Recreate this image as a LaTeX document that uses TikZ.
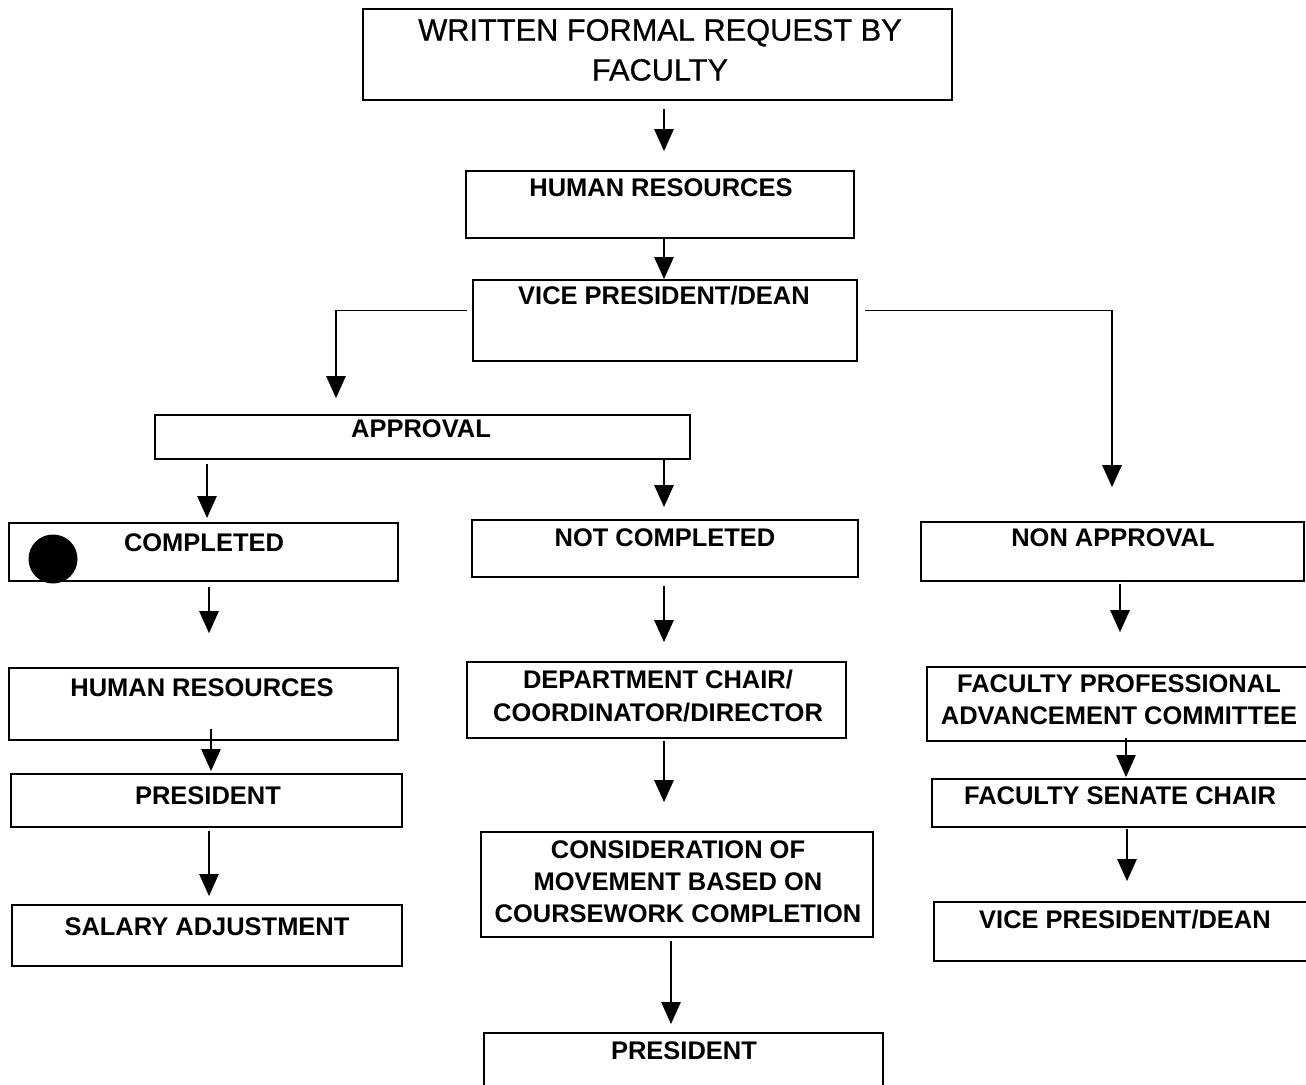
\documentclass[tikz,border=0pt]{standalone}
\usepackage{fontspec}
\setmainfont{Liberation Sans}
\newfontfamily\titlefont[FakeBold=0.7]{Liberation Sans}
\usetikzlibrary{arrows.meta,calc}
% one drawing unit = 0.02cm
\def\pxu{0.5669pt}
% box from its corners: name, x1, y1, x2, y2
\newcommand\bx[5]{\node[box, minimum width={(#4-#2)*0.02cm}, minimum height={(#5-#3)*0.02cm}] (#1) at ({(#2+#4)/2},{(#3+#5)/2}) {};}
\begin{document}
\begin{tikzpicture}[x=0.02cm,y=-0.02cm,
  box/.style={draw, line width=1.1pt, inner sep=0pt},
  lbl/.style={font=\bfseries\fontsize{14.5}{18.3}\selectfont, align=center, inner sep=0pt},
  ttl/.style={font=\titlefont\fontsize{17.5}{22.7}\selectfont, align=center, inner sep=0pt},
  conn/.style={line width=0.9pt, -{Triangle[width=11pt,length=12.5pt]}},
]
\clip (0,0) rectangle (1306,1085);
\fill[white] (0,0) rectangle (1306,1085);

% boxes
\bx{top}{363}{9}{952}{100}
\bx{hr1}{466}{171}{854}{238}
\bx{vp}{473}{280}{857}{361}
\bx{approval}{155}{415}{690}{459}
\bx{completed}{9}{523}{398}{581}
\bx{notcomp}{472}{520}{858}{577}
\bx{nonapp}{921}{522}{1304}{581}
\bx{hr2}{9}{668}{398}{740}
\bx{dept}{467}{662}{846}{738}
\bx{fpac}{927}{667}{1312}{741}
\bx{pres1}{11}{774}{402}{827}
\bx{fsc}{932}{779}{1312}{827}
\bx{cons}{481}{832}{873}{937}
\bx{salary}{12}{905}{402}{966}
\bx{vp2}{934}{902}{1312}{961}
\bx{pres2}{484}{1033}{883}{1100}

\node[circle, fill=black, inner sep=0pt, minimum size={49*0.02cm}] (dot) at (53,559) {};

% labels
\node[ttl] (toptxt) at (660,50) {WRITTEN FORMAL REQUEST BY\\FACULTY};
\node[lbl] (hr1txt) at (661,188) {HUMAN RESOURCES};
\node[lbl] (vptxt) at (664,296) {VICE PRESIDENT/DEAN};
\node[lbl] (approvaltxt) at (421,429) {APPROVAL};
\node[lbl] (completedtxt) at (204,543) {COMPLETED};
\node[lbl] (notcomptxt) at (665,538) {NOT COMPLETED};
\node[lbl] (nonapptxt) at (1113,538) {NON APPROVAL};
\node[lbl] (hr2txt) at (202,688) {HUMAN RESOURCES};
\node[lbl] (depttxt) at (658,696) {DEPARTMENT CHAIR/\\COORDINATOR/DIRECTOR};
\node[lbl] (fpactxt) at (1119,700) {FACULTY PROFESSIONAL\\ADVANCEMENT COMMITTEE};
\node[lbl] (pres1txt) at (208,796) {PRESIDENT};
\node[lbl] (fsctxt) at (1120,796) {FACULTY SENATE CHAIR};
\node[lbl] (constxt) at (678,882) {CONSIDERATION OF\\MOVEMENT BASED ON\\COURSEWORK COMPLETION};
\node[lbl] (salarytxt) at (207,927) {SALARY ADJUSTMENT};
\node[lbl] (vp2txt) at (1125,920) {VICE PRESIDENT/DEAN};
\node[lbl] (pres2txt) at (684,1051) {PRESIDENT};

% connector columns
\coordinate (xA) at (664,0);
\coordinate (xL) at (336,0);
\coordinate (xR) at (1112,0);
\coordinate (xB) at (207,0);
\coordinate (xC) at (209,0);
\coordinate (xD) at (211,0);
\coordinate (xE) at (1120,0);
\coordinate (xF) at (1126,0);
\coordinate (xG) at (1127,0);
\coordinate (xH) at (671,0);

% connectors
\draw[conn, shorten <=8*\pxu, shorten >=19*\pxu] (top.south -| xA) -- (hr1.north -| xA);
\draw[conn] (hr1.south -| xA) -- (vp.north -| xA);
\draw[conn, shorten <=5*\pxu, shorten >=16*\pxu] ([yshift=10*\pxu]vp.west) -| (approval.north -| xL);
\draw[conn, shorten <=7*\pxu, shorten >=34*\pxu] ([yshift=10*\pxu]vp.east) -| (nonapp.north -| xR);
\draw[conn, shorten <=4*\pxu, shorten >=4*\pxu] (approval.south -| xB) -- (completed.north -| xB);
\draw[conn, shorten >=12*\pxu] (approval.south -| xA) -- (notcomp.north -| xA);
\draw[conn, shorten <=5*\pxu, shorten >=34*\pxu] (completed.south -| xC) -- (hr2.north -| xC);
\draw[conn, shorten <=8*\pxu, shorten >=19*\pxu] (notcomp.south -| xA) -- (dept.north -| xA);
\draw[conn, shorten <=2*\pxu, shorten >=34*\pxu] (nonapp.south -| xE) -- (fpac.north -| xE);
\draw[conn, shorten <=-12*\pxu, shorten >=2*\pxu] (hr2.south -| xD) -- (pres1.north -| xD);
\draw[conn, shorten <=2*\pxu, shorten >=29*\pxu] (dept.south -| xA) -- (cons.north -| xA);
\draw[conn, shorten <=-4*\pxu, shorten >=1*\pxu] (fpac.south -| xF) -- (fsc.north -| xF);
\draw[conn, shorten <=3*\pxu, shorten >=8*\pxu] (pres1.south -| xC) -- (salary.north -| xC);
\draw[conn, shorten <=1*\pxu, shorten >=20*\pxu] (fsc.south -| xG) -- (vp2.north -| xG);
\draw[conn, shorten <=3*\pxu, shorten >=8*\pxu] (cons.south -| xH) -- (pres2.north -| xH);
\end{tikzpicture}
\end{document}
